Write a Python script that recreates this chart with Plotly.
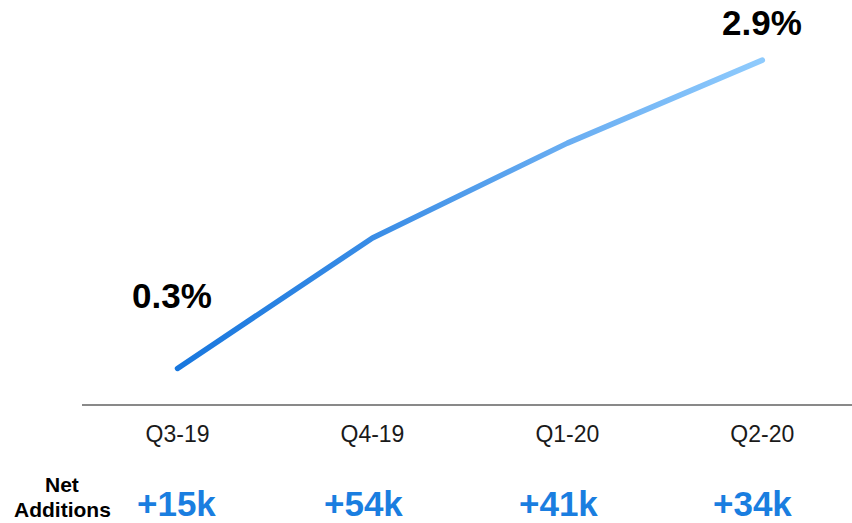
import plotly.graph_objects as go

# Quarterly penetration rate (%) and net subscriber additions
quarters = ["Q3-19", "Q4-19", "Q1-20", "Q2-20"]
rate_pct = [0.3, 1.4, 2.2, 2.9]
net_additions = ["+15k", "+54k", "+41k", "+34k"]
labelled_points = {"Q3-19": "0.3%", "Q2-20": "2.9%"}

FONT = "Liberation Sans, Arial, sans-serif"
W, H = 852, 523
LEFT = 82          # left margin, px
AXIS_PX = 404      # bottom of plotting area, in pixels from top


def paper_y(px):
    return (AXIS_PX - px) / AXIS_PX


def paper_x(px):
    return (px - LEFT) / (W - LEFT)


fig = go.Figure()
fig.add_trace(go.Scatter(
    x=quarters, y=rate_pct, mode="lines",
    line=dict(color="#4a9be9", width=5.5),
    hoverinfo="skip", showlegend=False,
))

# value callouts on first and last point
shifts = {"Q3-19": (-6, 73), "Q2-20": (0, 38)}
for q, txt in labelled_points.items():
    i = quarters.index(q)
    dx, dy = shifts[q]
    fig.add_annotation(
        x=q, y=rate_pct[i], xref="x", yref="y", text=txt, showarrow=False,
        xshift=dx, yshift=dy,
        font=dict(family=FONT, size=35, color="#000000", weight="bold"),
    )

# net additions row
row_shift = [-1, -9, -9, -10]
for q, txt, dx in zip(quarters, net_additions, row_shift):
    fig.add_annotation(
        x=q, y=paper_y(503), xref="x", yref="paper", text=txt, showarrow=False,
        yanchor="middle", xshift=dx,
        font=dict(family=FONT, size=35, color="#1a7ee0", weight="bold"),
    )

# row caption, one annotation per line
for txt, py in (("Net", 484), ("Additions", 509)):
    fig.add_annotation(
        x=paper_x(62), y=paper_y(py), xref="paper", yref="paper",
        text=txt, showarrow=False, yanchor="middle", xanchor="center",
        borderpad=0,
        font=dict(family=FONT, size=21, color="#000000", weight="bold"),
    )

fig.update_layout(
    width=W, height=H,
    margin=dict(l=LEFT, r=0, t=0, b=H - AXIS_PX, pad=0),
    paper_bgcolor="white", plot_bgcolor="white",
    xaxis=dict(
        type="category", range=[-0.49, 3.46],
        showline=True, linecolor="#898989", linewidth=2,
        showgrid=False, zeroline=False, ticks="",
        tickfont=dict(family=FONT, size=23, color="#1a1a1a"),
        ticklabelstandoff=8,
    ),
    yaxis=dict(range=[0, 3.407], visible=False, showgrid=False, zeroline=False),
)

# colour the rate line with a left-to-right blue gradient
post = """
var gd = document.getElementById('{plot_id}');
function applyGrad(){
  var svg = gd.querySelector('svg.main-svg');
  if(!svg) return;
  var ns = 'http://www.w3.org/2000/svg';
  var defs = svg.querySelector('defs');
  if(!defs){ defs = document.createElementNS(ns,'defs'); svg.insertBefore(defs, svg.firstChild); }
  if(!document.getElementById('rateGrad')){
    var g = document.createElementNS(ns,'linearGradient');
    g.setAttribute('id','rateGrad');
    g.setAttribute('x1','0'); g.setAttribute('y1','0');
    g.setAttribute('x2','1'); g.setAttribute('y2','0');
    [['0','#1877de'],['0.34','#3a8de6'],['0.67','#6aaef2'],['1','#8fcbfd']].forEach(function(s){
      var st = document.createElementNS(ns,'stop');
      st.setAttribute('offset', s[0]); st.setAttribute('stop-color', s[1]);
      g.appendChild(st);
    });
    defs.appendChild(g);
  }
  gd.querySelectorAll('.scatterlayer .trace .js-line').forEach(function(p){
    p.style.stroke = 'url(#rateGrad)';
    p.style.strokeLinecap = 'round';
    p.style.strokeLinejoin = 'round';
  });
}
applyGrad();
gd.on('plotly_afterplot', applyGrad);
"""

fig.write_html("out.html", post_script=post, config={"displayModeBar": False})
